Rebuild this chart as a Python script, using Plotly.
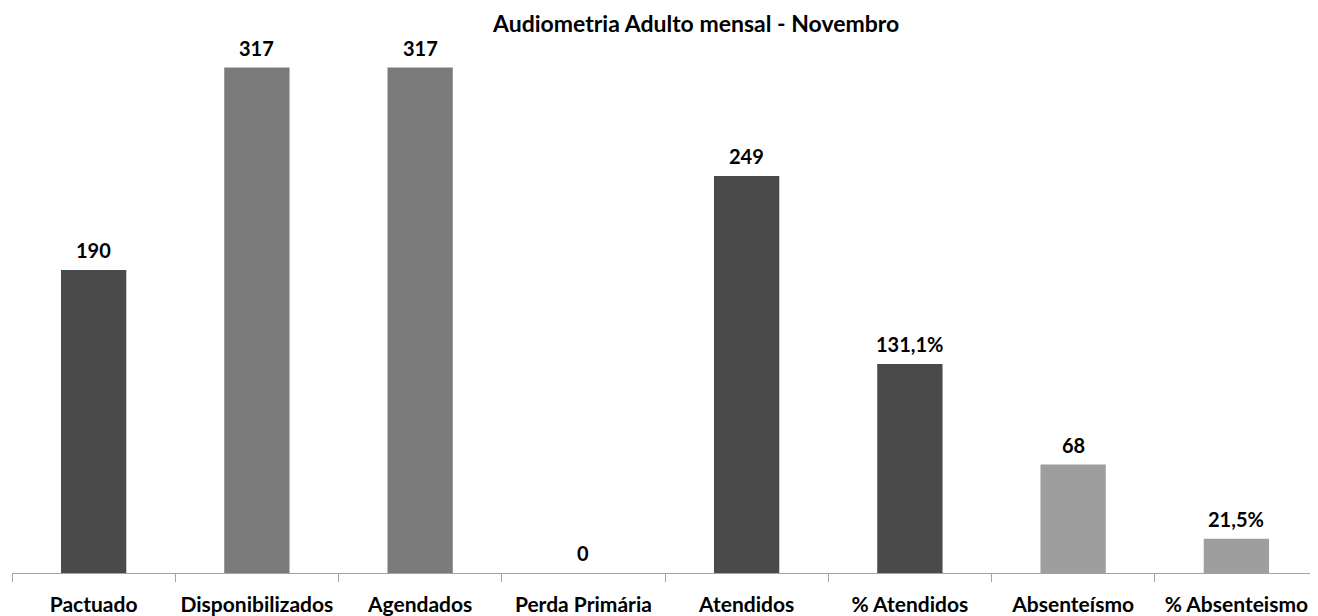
import plotly.graph_objects as go

# ---- data ----
CATEGORIES = ["Pactuado", "Disponibilizados", "Agendados", "Perda Primária",
              "Atendidos", "% Atendidos", "Absenteísmo", "% Absenteismo"]
VALUES = [190, 317, 317, 0, 249, 131.1, 68, 21.5]
IS_PERCENT = [False, False, False, False, False, True, False, True]
BAR_COLORS = ["#4a4a4a", "#7b7b7b", "#7b7b7b", "#7b7b7b",
              "#4a4a4a", "#4a4a4a", "#9e9e9e", "#9e9e9e"]
TITLE = "Audiometria Adulto mensal - Novembro"

FONT = "Lato"


def fmt(v, pct):
    if pct:
        return f"{v:.1f}".replace(".", ",") + "%"
    return f"{v:.0f}"


LABELS = [fmt(v, p) for v, p in zip(VALUES, IS_PERCENT)]

fig = go.Figure(
    go.Bar(
        x=CATEGORIES,
        y=VALUES,
        marker=dict(color=BAR_COLORS, line=dict(width=0)),
        hoverinfo="x+y",
    )
)

for c, v, lab in zip(CATEGORIES, VALUES, LABELS):
    fig.add_annotation(
        x=c, y=v, xref="x", yref="y", text=lab, showarrow=False,
        yanchor="middle", yshift=20,
        font=dict(family=FONT, size=20, color="#000000", weight="bold"),
    )

fig.add_annotation(
    text=TITLE, xref="paper", yref="paper", x=0.523, y=1, yshift=-8,
    xanchor="center", yanchor="middle", showarrow=False,
    font=dict(family=FONT, size=23, color="#000000", weight="bold"),
)

# page body has an 8px margin, so the figure is 8px smaller than the window
fig.update_layout(
    width=1310, height=608,
    margin=dict(l=4, r=0, t=7, b=43, autoexpand=False),
    paper_bgcolor="#ffffff", plot_bgcolor="#ffffff",
    bargap=0.6, showlegend=False,
    font=dict(family=FONT),
)
fig.update_xaxes(
    type="category", showline=True, linecolor="#a3a3a3", linewidth=1.2,
    ticks="outside", ticklen=8, tickcolor="#a3a3a3", tickwidth=1.2,
    tickson="boundaries", showgrid=False, zeroline=False,
    tickfont=dict(family=FONT, size=21, color="#000000", weight="bold"),
    ticklabelstandoff=13, automargin=False,
)
fig.update_yaxes(
    range=[0, 350], visible=False, showgrid=False, zeroline=False,
    automargin=False,
)

fig.write_html("out.html")
